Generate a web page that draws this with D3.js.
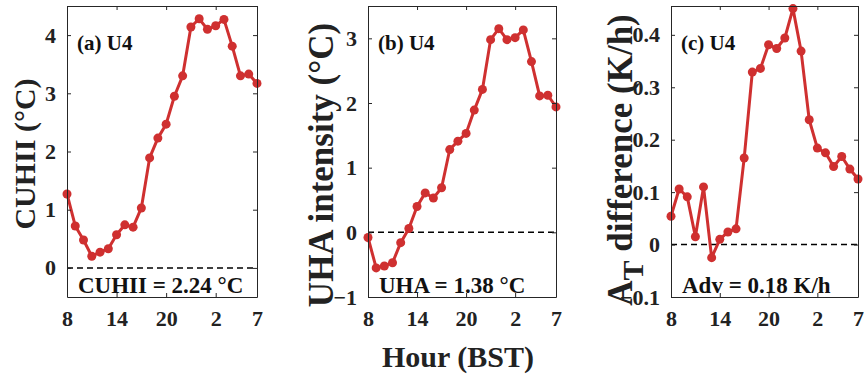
<!DOCTYPE html>
<html>
<head>
<meta charset="utf-8">
<script src="https://cdn.jsdelivr.net/npm/d3@7"></script>
<style>
  body { margin: 0; background: #fff; }
  svg { display: block; }
  svg text { font-family: "Liberation Serif", "Times New Roman", serif; font-weight: bold; }
</style>
</head>
<body>
<svg id="chart" width="864" height="381"></svg>
<script>
// hours from 08 BST to 07 BST next day
const hours = [8, 9, 10, 11, 12, 13, 14, 15, 16, 17, 18, 19, 20, 21, 22, 23, 0, 1, 2, 3, 4, 5, 6, 7];
const xTickIdx = [0, 6, 12, 18, 23];
const xTickLabels = ["8", "14", "20", "2", "7"];

const cuhii = [1.27, 0.72, 0.48, 0.20, 0.27, 0.33, 0.57, 0.74, 0.70, 1.03, 1.89, 2.23,
  2.47, 2.95, 3.30, 4.14, 4.28, 4.10, 4.16, 4.27, 3.81, 3.30, 3.33, 3.17];
const uha = [-0.08, -0.55, -0.52, -0.47, -0.16, 0.06, 0.40, 0.61, 0.53, 0.69, 1.28, 1.41,
  1.53, 1.89, 2.21, 2.98, 3.15, 2.98, 3.01, 3.13, 2.64, 2.11, 2.12, 1.94];
const adv = [0.054, 0.106, 0.091, 0.015, 0.110, -0.025, 0.010, 0.024, 0.030, 0.165, 0.329, 0.336,
  0.381, 0.374, 0.394, 0.450, 0.369, 0.238, 0.184, 0.175, 0.149, 0.168, 0.144, 0.125];

const panels = [
  { data: cuhii, left: 67, right: 257, domain: [-0.5, 4.5], ticks: [0, 1, 2, 3, 4], fmt: d3.format("d"),
    title: "(a) U4", note: "CUHII = 2.24 °C", ylabel: "CUHII (°C)", labX: 24, labY: 154, labSize: 30 },
  { data: uha, left: 368, right: 556, domain: [-1, 3.5], ticks: [-1, 0, 1, 2, 3], fmt: d3.format("d"),
    title: "(b) U4", note: "UHA = 1.38 °C", ylabel: "UHA intensity (°C)", labX: 321, labY: 165, labSize: 35 },
  { data: adv, left: 671, right: 858, domain: [-0.1, 0.455], ticks: [-0.1, 0, 0.1, 0.2, 0.3, 0.4],
    fmt: d => d === 0 ? "0" : d3.format(".1f")(d), title: "(c) U4", note: "Adv = 0.18 K/h", ylabel: null,
    labX: 620, labY: 160, labSize: 35 }
];

const plotTop = 6, plotBottom = 297;
const axisColor = "#262626";
const red = "#cf3030";
const svg = d3.select("#chart");

panels.forEach(p => {
  const x = d3.scaleLinear().domain([0, hours.length - 1]).range([p.left, p.right]);
  const y = d3.scaleLinear().domain(p.domain).range([plotBottom, plotTop]);
  const g = svg.append("g");

  // zero reference line
  g.append("line")
    .attr("x1", p.left).attr("x2", p.right)
    .attr("y1", y(0)).attr("y2", y(0))
    .attr("stroke", "#000").attr("stroke-width", 1.5)
    .attr("stroke-dasharray", "6,4");

  // series
  const line = d3.line().x((d, i) => x(i)).y(d => y(d));
  g.append("path")
    .datum(p.data)
    .attr("d", line)
    .attr("fill", "none")
    .attr("stroke", red)
    .attr("stroke-width", 3)
    .attr("stroke-linejoin", "round");
  g.selectAll("circle")
    .data(p.data)
    .join("circle")
    .attr("cx", (d, i) => x(i))
    .attr("cy", d => y(d))
    .attr("r", 4.5)
    .attr("fill", red);

  // texts
  g.append("text")
    .attr("x", p.left + 10).attr("y", 50)
    .attr("font-size", 21)
    .attr("fill", "#111")
    .text(p.title);
  g.append("text")
    .attr("x", p.left + 11).attr("y", 293)
    .attr("font-size", 23)
    .attr("fill", "#111")
    .text(p.note);

  // axes (box with inward ticks on all sides)
  const xAxisB = d3.axisBottom(x).tickValues(xTickIdx).tickFormat((d, i) => xTickLabels[i]).tickSizeInner(-4).tickSizeOuter(0).tickPadding(13);
  const xAxisT = d3.axisTop(x).tickValues(xTickIdx).tickFormat("").tickSizeInner(-4).tickSizeOuter(0);
  const yAxisL = d3.axisLeft(y).tickValues(p.ticks).tickFormat(p.fmt).tickSizeInner(-4).tickSizeOuter(0).tickPadding(11);
  const yAxisR = d3.axisRight(y).tickValues(p.ticks).tickFormat("").tickSizeInner(-4).tickSizeOuter(0);

  const axes = [
    [xAxisB, `translate(0,${plotBottom})`],
    [xAxisT, `translate(0,${plotTop})`],
    [yAxisL, `translate(${p.left},0)`],
    [yAxisR, `translate(${p.right},0)`]
  ];
  axes.forEach(([ax, tr]) => {
    const a = g.append("g").attr("transform", tr).call(ax)
      .attr("font-family", null).attr("font-size", null);
    a.selectAll("path, line").attr("stroke", axisColor).attr("stroke-width", 1);
    a.selectAll("text").attr("font-size", 22).attr("fill", "#222");
  });

  // y label
  const lab = g.append("text")
    .attr("transform", `translate(${p.labX},${p.labY}) rotate(-90)`)
    .attr("text-anchor", "middle")
    .attr("dy", "0.35em")
    .attr("font-size", p.labSize)
    .attr("fill", "#222");
  if (p.ylabel) {
    lab.text(p.ylabel);
  } else {
    lab.append("tspan").text("A");
    lab.append("tspan").attr("dy", 11).attr("font-size", 30).text("T");
    lab.append("tspan").attr("dy", -11).text(" difference (K/h)");
  }
});

svg.append("text")
  .attr("x", 458).attr("y", 367)
  .attr("text-anchor", "middle")
  .attr("font-size", 30)
  .attr("fill", "#222")
  .text("Hour (BST)");
</script>
</body>
</html>
